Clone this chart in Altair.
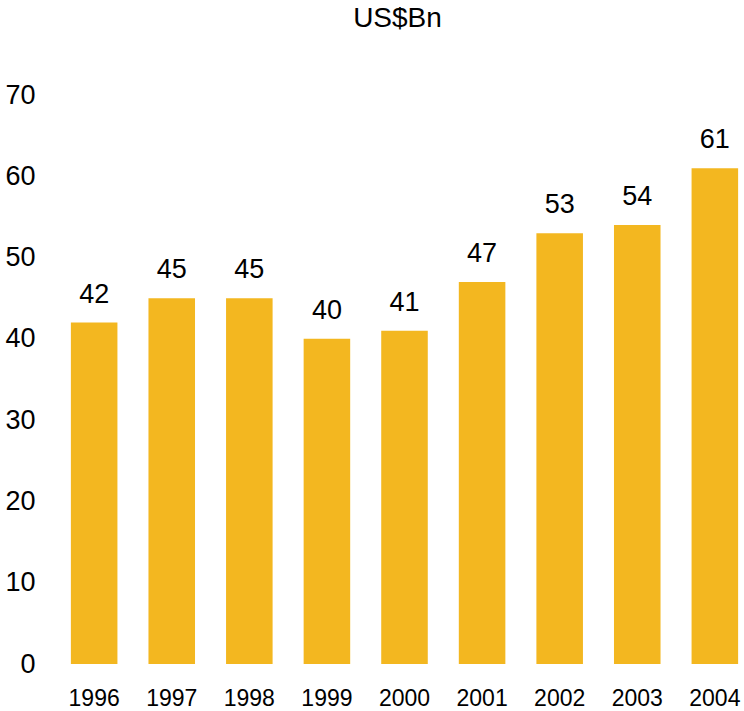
import altair as alt
import pandas as pd

years = ["1996", "1997", "1998", "1999", "2000", "2001", "2002", "2003", "2004"]
values = [42, 45, 45, 40, 41, 47, 53, 54, 61]

df = pd.DataFrame({"year": years, "value": values})

FONT = "Liberation Sans"

base = alt.Chart(df).encode(
    x=alt.X(
        "year:N",
        sort=years,
        scale=alt.Scale(paddingInner=0.4, paddingOuter=0.05),
        axis=alt.Axis(
            title=None, labelAngle=0, ticks=False, domain=False, grid=False,
            labelFontSize=23, labelFont=FONT, labelColor="#000000", labelPadding=23,
        ),
    ),
    y=alt.Y(
        "value:Q",
        scale=alt.Scale(domain=[0, 70], nice=False),
        axis=alt.Axis(
            title=None, values=[0, 10, 20, 30, 40, 50, 60, 70], ticks=False, domain=False,
            grid=False, labelFontSize=27, labelFont=FONT, labelColor="#000000",
            labelPadding=32,
        ),
    ),
)

bars = base.mark_bar(color="#F3B720")
labels = base.mark_text(
    baseline="alphabetic", dy=-20, fontSize=27, font=FONT, color="#000000"
).encode(text="value:Q")

chart = (
    (bars + labels)
    .properties(
        width=675,
        height=569,
        title=alt.TitleParams(
            "US$Bn", fontSize=28, font=FONT, fontWeight="normal", color="#000000",
            anchor="middle", offset=48, dx=-7,
        ),
        padding={"left": 67, "top": 95, "right": 2, "bottom": 47},
        autosize=alt.AutoSizeParams(type="none"),
    )
    .configure(background="white")
    .configure_view(strokeWidth=0, stroke="transparent")
)

chart.save("out.html", embed_options={"renderer": "svg", "actions": False})
